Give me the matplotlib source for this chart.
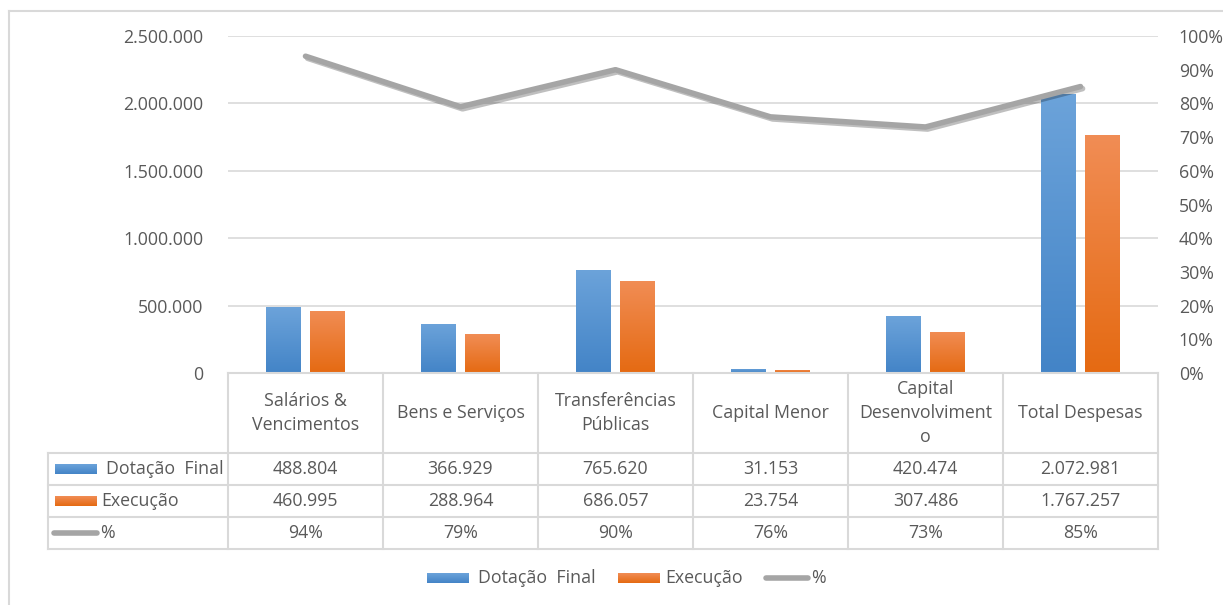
import numpy as np
import matplotlib.pyplot as plt
from matplotlib.lines import Line2D
import matplotlib.patheffects as pe
from matplotlib.colors import LinearSegmentedColormap

plt.rcParams['font.family'] = ['Open Sans', 'DejaVu Sans']

categories = ["Salários &\nVencimentos", "Bens e Serviços", "Transferências\nPúblicas",
              "Capital Menor", "Capital\nDesenvolviment\no", "Total Despesas"]
dotacao = [488804, 366929, 765620, 31153, 420474, 2072981]
execucao = [460995, 288964, 686057, 23754, 307486, 1767257]
pct = [0.94, 0.79, 0.90, 0.76, 0.73, 0.85]
series_names = ["Dotação  Final", "Execução", "%"]

W, H = 1223, 605
TXT = "#595959"
GRID = "#D9D9D9"
BLUE = ("#6CA3DA", "#4384C7")
ORANGE = ("#F18D55", "#E56A12")
GRAY = "#A5A5A5"
FS = 12.8


def fx(x):
    return x / W


def fy(y):
    return 1 - y / H


def fmt(v):
    return f"{v:,}".replace(",", ".")


fig = plt.figure(figsize=(W / 100, H / 100), dpi=100)
fig.patch.set_facecolor("white")

# plot area in pixel coordinates
L, R, T, B = 228, 1158, 36, 373
ax = fig.add_axes([fx(L), fy(B), fx(R - L), fy(T) - fy(B)])
ax.set_yticks(np.arange(0, 2500001, 500000))
ax.set_yticklabels([fmt(v) for v in range(0, 2500001, 500000)])
ax.tick_params(axis="y", length=0, pad=18, labelsize=FS, labelcolor=TXT)
ax.set_xticks([])
for s in ax.spines.values():
    s.set_visible(False)
ax.grid(axis="y", color=GRID, linewidth=1.2)
ax.set_axisbelow(True)

x = np.arange(len(categories))
bw, off = 0.223, 0.143
grad = np.linspace(1, 0, 256).reshape(-1, 1)
for vals, cols, sign in [(dotacao, BLUE, -1), (execucao, ORANGE, 1)]:
    cmap = LinearSegmentedColormap.from_list("g", [cols[1], cols[0]])
    bars = ax.bar(x + sign * off, vals, width=bw, color=cols[1], zorder=2,
                  path_effects=[pe.SimpleLineShadow(offset=(1.5, -1.5), alpha=0.2), pe.Normal()])
    for b in bars:
        im = ax.imshow(grad, cmap=cmap, aspect="auto", zorder=3,
                       extent=[b.get_x(), b.get_x() + b.get_width(), 0, b.get_height()])
        im.set_clip_path(b)
ax.set_xlim(-0.5, len(categories) - 0.5)
ax.set_ylim(0, 2500000)

ax2 = ax.twinx()
ax2.set_ylim(0, 1)
ax2.set_yticks(np.arange(0, 1.01, 0.1))
ax2.set_yticklabels([f"{int(round(v * 100))}%" for v in np.arange(0, 1.01, 0.1)])
ax2.tick_params(axis="y", length=0, pad=15, labelsize=FS, labelcolor=TXT)
for s in ax2.spines.values():
    s.set_visible(False)
ax2.plot(x, pct, color=GRAY, linewidth=4, solid_capstyle="round", solid_joinstyle="round",
         zorder=4, path_effects=[pe.SimpleLineShadow(offset=(1.5, -1.5), alpha=0.25), pe.Normal()])

# outer chart border
for seg in [((9, 1223), (11, 11)), ((9, 9), (11, 605))]:
    fig.add_artist(Line2D([fx(seg[0][0]), fx(seg[0][1])], [fy(seg[1][0]), fy(seg[1][1])],
                          color=GRID, linewidth=1.5))

# data table
cols_x = [L + i * (R - L) / len(categories) for i in range(len(categories) + 1)]
rows_y = [B, 453, 485, 517, 549]
LBL = 48


def hline(x0, x1, y):
    fig.add_artist(Line2D([fx(x0), fx(x1)], [fy(y), fy(y)], color=GRID, linewidth=1.5))


def vline(xv, y0, y1):
    fig.add_artist(Line2D([fx(xv), fx(xv)], [fy(y0), fy(y1)], color=GRID, linewidth=1.5))


hline(L, R, rows_y[0])
for yv in rows_y[1:]:
    hline(LBL, R, yv)
for xv in cols_x:
    vline(xv, rows_y[0], rows_y[-1])
vline(LBL, rows_y[1], rows_y[-1])

for i, c in enumerate(categories):
    cx = (cols_x[i] + cols_x[i + 1]) / 2
    fig.text(fx(cx), fy((rows_y[0] + rows_y[1]) / 2), c, ha="center", va="center",
             fontsize=FS, color=TXT, linespacing=1.4)
    for r, vals in enumerate([dotacao, execucao]):
        fig.text(fx(cx), fy((rows_y[r + 1] + rows_y[r + 2]) / 2), fmt(vals[i]),
                 ha="center", va="center", fontsize=FS, color=TXT)
    fig.text(fx(cx), fy((rows_y[3] + rows_y[4]) / 2), f"{int(round(pct[i] * 100))}%",
             ha="center", va="center", fontsize=FS, color=TXT)


def key_patch(x0, yc, cols):
    cmap = LinearSegmentedColormap.from_list("g", [cols[1], cols[0]])
    kax = fig.add_axes([fx(x0), fy(yc + 5), fx(42), fy(yc - 5) - fy(yc + 5)])
    kax.imshow(grad, cmap=cmap, aspect="auto")
    kax.axis("off")


def key_line(x0, x1, yc):
    fig.add_artist(Line2D([fx(x0), fx(x1)], [fy(yc), fy(yc)], color=GRAY, linewidth=4,
                          solid_capstyle="round"))


# table row labels
y1 = (rows_y[1] + rows_y[2]) / 2
y2 = (rows_y[2] + rows_y[3]) / 2
y3 = (rows_y[3] + rows_y[4]) / 2
key_patch(55, y1, BLUE)
fig.text(fx(106), fy(y1), series_names[0], ha="left", va="center", fontsize=FS, color=TXT)
key_patch(55, y2, ORANGE)
fig.text(fx(101), fy(y2), series_names[1], ha="left", va="center", fontsize=FS, color=TXT)
key_line(54, 97, y3)
fig.text(fx(100), fy(y3), series_names[2], ha="left", va="center", fontsize=FS, color=TXT)

# legend at the bottom
ly = 578
key_patch(427, ly, BLUE)
fig.text(fx(478), fy(ly), series_names[0], ha="left", va="center", fontsize=FS, color=TXT)
key_patch(618, ly, ORANGE)
fig.text(fx(665), fy(ly), series_names[1], ha="left", va="center", fontsize=FS, color=TXT)
key_line(766, 808, ly)
fig.text(fx(811), fy(ly), series_names[2], ha="left", va="center", fontsize=FS, color=TXT)

fig.savefig("out.png", dpi=100, facecolor="white")
